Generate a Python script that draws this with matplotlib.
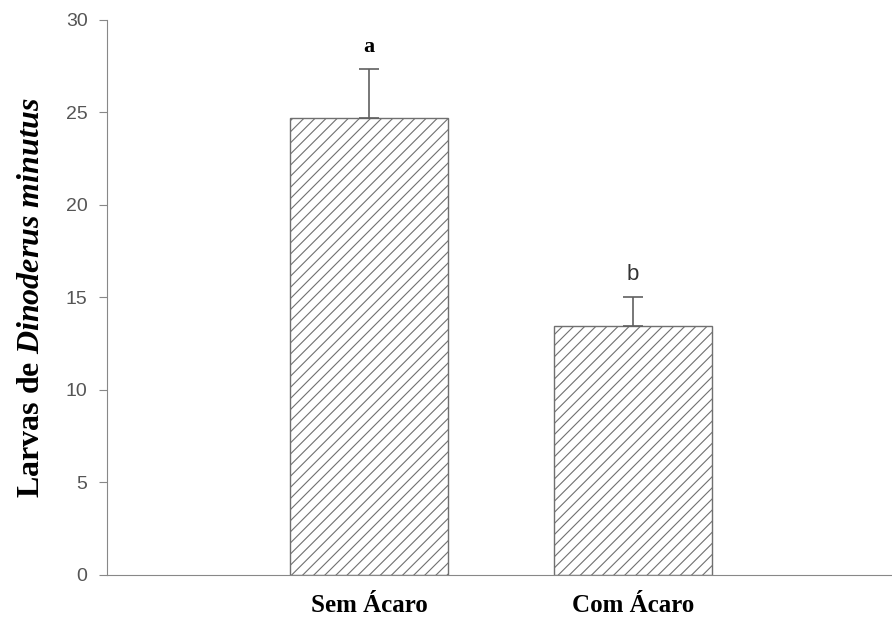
import matplotlib.pyplot as plt
import numpy as np

plt.rcParams['mathtext.fontset'] = 'custom'
plt.rcParams['mathtext.rm'] = 'Liberation Serif:bold'
plt.rcParams['mathtext.it'] = 'Liberation Serif:bold:italic'
plt.rcParams['hatch.color'] = '#8a8a8a'
plt.rcParams['hatch.linewidth'] = 0.8

# dados
grupos = ['Sem Ácaro', 'Com Ácaro']
medias = [24.7, 13.45]
erros = [2.65, 1.6]
letras = ['a', 'b']

fig = plt.figure(figsize=(8.92, 6.28), dpi=100)
ax = fig.add_axes([0.12, 0.0844, 0.88, 0.8838])

x = np.arange(len(grupos))
ax.bar(x, medias, width=0.6, color='white', edgecolor='#707070',
       linewidth=1.0, hatch='///')
ax.errorbar(x, medias, yerr=[[0, 0], erros], fmt='none', ecolor='#606060',
            elinewidth=1.2, capsize=7, capthick=1.2)

# letras de significancia
ax.text(x[0], medias[0] + erros[0] + 0.65, letras[0], ha='center',
        va='bottom', fontsize=16, fontweight='bold', family='Liberation Serif')
ax.text(x[1], medias[1] + erros[1] + 0.6, letras[1], ha='center',
        va='bottom', fontsize=16, family='Liberation Sans', color='#333333')

ax.set_xlim(-0.992, 1.98)
ax.set_ylim(0, 30)
ax.set_yticks(range(0, 31, 5))
ax.tick_params(axis='y', labelsize=14, labelcolor='#555555', color='#888888',
               length=6, pad=8)
for t in ax.get_yticklabels():
    t.set_family('Liberation Sans')
ax.set_xticks(x)
ax.set_xticklabels(grupos, fontsize=18, fontweight='bold',
                   family='Liberation Serif')
ax.tick_params(axis='x', length=0, pad=14)

ax.spines['top'].set_visible(False)
ax.spines['right'].set_visible(False)
ax.spines['left'].set_color('#888888')
ax.spines['bottom'].set_color('#888888')

ax.set_ylabel(r'Larvas de $\mathit{Dinoderus\ minutus}$', fontsize=23,
              fontweight='bold', family='Liberation Serif', labelpad=14)

fig.savefig('out.png', dpi=100)
